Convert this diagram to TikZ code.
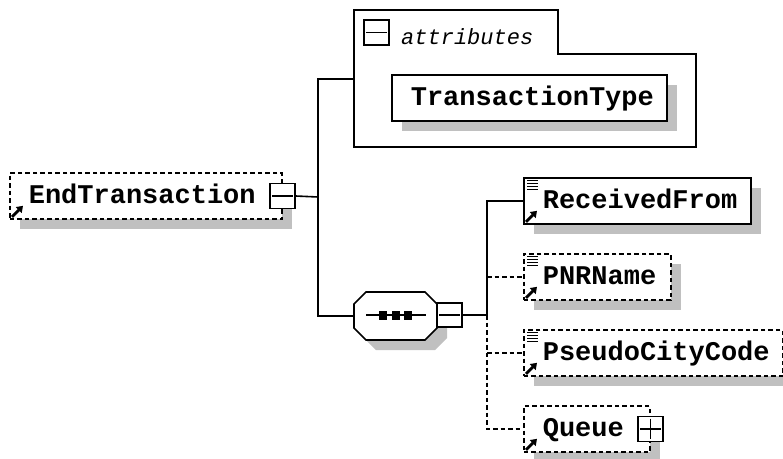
\documentclass[tikz,border=0pt]{standalone}
\usepackage{fontspec}
\setmonofont{Liberation Mono}[HyphenChar=None]
\usetikzlibrary{arrows.meta,calc,shadows}
\definecolor{shadegray}{RGB}{192,192,192}
\tikzset{
  conn/.style={line width=1.6pt},
  optional/.style={dash pattern=on 4.5pt off 3pt},
  elembox/.style={draw, fill=white, line width=1.6pt, anchor=west, minimum height=46pt,
    inner xsep=19pt, inner ysep=0pt, align=left, text height=14pt, text depth=0pt,
    font=\fontsize{27pt}{30pt}\selectfont\ttfamily\bfseries,
    drop shadow={shadow xshift=10pt, shadow yshift=-10pt, fill=shadegray, opacity=1}},
  ctrlbox/.style={draw, fill=white, line width=1.6pt, minimum width=25pt, minimum height=25pt, inner sep=0pt},
  refarrow/.style={line width=2.8pt, -{Triangle[length=6pt,width=8pt]}},
  lineicon/.style={line width=1.4pt},
  attrlabel/.style={font=\fontsize{22pt}{24pt}\selectfont\ttfamily\itshape, anchor=base west, inner sep=0pt},
  refsign/.pic={\draw[refarrow] (0,0) -- (11,-11);},
  listsign/.pic={\foreach \k in {0,3,6,9} \draw[lineicon] (0,\k) -- (11,\k);},
}
\begin{document}
\begin{tikzpicture}[x=1pt,y=-1pt]
\fill[white] (0,0) rectangle (783,458);
\useasboundingbox (0,0) rectangle (783,458);

% root element
\node[elembox, optional, text width=234pt] (end) at (9,196) {EndTransaction};
\pic at ([shift={(3,-3)}]end.south west) {refsign};
\node[ctrlbox] (endminus) at (end.east) {};
\draw[conn] ([xshift=3pt]endminus.west) -- ([xshift=-3pt]endminus.east);

% attributes group
\draw[conn] (354,10) -- (558,10) -- (558,54) -- (696,54) -- (696,147) -- (354,147) -- cycle;
\coordinate (attrL) at (354,79);
\node[ctrlbox] (attrminus) at (376.5,32.5) {};
\draw[conn] ([xshift=3pt]attrminus.west) -- ([xshift=-3pt]attrminus.east);
\node[attrlabel] (attrtext) at (401,44) {attributes};
\node[elembox, text width=237pt] (ttype) at (391,98) {TransactionType};

% sequence compositor
\node[minimum width=83pt, minimum height=48pt, inner sep=0pt] (seq) at (395.5,316) {};
\fill[shadegray, shift={(10,10)}] (366,292) -- (425,292) -- (437,304) -- (437,328) -- (425,340) -- (366,340) -- (354,328) -- (354,304) -- cycle;
\draw[conn, fill=white] (366,292) -- (425,292) -- (437,304) -- (437,328) -- (425,340) -- (366,340) -- (354,328) -- (354,304) -- cycle;
\draw[conn] (366,315) -- (426,315);
\foreach \cx in {383,395.5,408} \fill (\cx-4,310.5) rectangle (\cx+4,319.5);
\node[ctrlbox, minimum height=24pt] (seqminus) at (449.5,315) {};
\draw[conn] ([xshift=3pt]seqminus.west) -- ([xshift=-3pt]seqminus.east);

% left connectors
\coordinate (j1) at (318,197);
\draw[conn] (endminus.east) -- (j1);
\draw[conn] (attrL) -- (attrL -| j1) -- (seq.west -| j1) -- (seq.west);

% children
\node[elembox, text width=189pt] (rf) at (523,201) {ReceivedFrom};
\pic at ([shift={(4,3)}]rf.north west) {listsign};
\pic at ([shift={(3,-3)}]rf.south west) {refsign};

\node[elembox, optional, text width=109pt] (pnr) at (523,277) {PNRName};
\pic at ([shift={(4,3)}]pnr.north west) {listsign};
\pic at ([shift={(3,-3)}]pnr.south west) {refsign};

\node[elembox, optional, text width=221pt] (pcc) at (523,353) {PseudoCityCode};
\pic at ([shift={(4,3)}]pcc.north west) {listsign};
\pic at ([shift={(3,-3)}]pcc.south west) {refsign};

\node[elembox, optional, text width=88pt] (queue) at (523,429) {Queue};
\pic at ([shift={(3,-3)}]queue.south west) {refsign};
\node[ctrlbox] (qplus) at (queue.east) {};
\draw[conn] ([xshift=3pt]qplus.west) -- ([xshift=-3pt]qplus.east);
\draw[conn] ([yshift=-3pt]qplus.north) -- ([yshift=3pt]qplus.south);

% right connectors
\coordinate (j2) at (487,315);
\draw[conn] (seqminus.east) -- (j2);
\draw[conn] (rf.west) -- (rf.west -| j2) -- (j2);
\draw[conn, optional] (j2) -- (queue.west -| j2) -- (queue.west);
\draw[conn, optional] (pnr.west -| j2) -- (pnr.west);
\draw[conn, optional] (pcc.west -| j2) -- (pcc.west);
\end{tikzpicture}
\end{document}
